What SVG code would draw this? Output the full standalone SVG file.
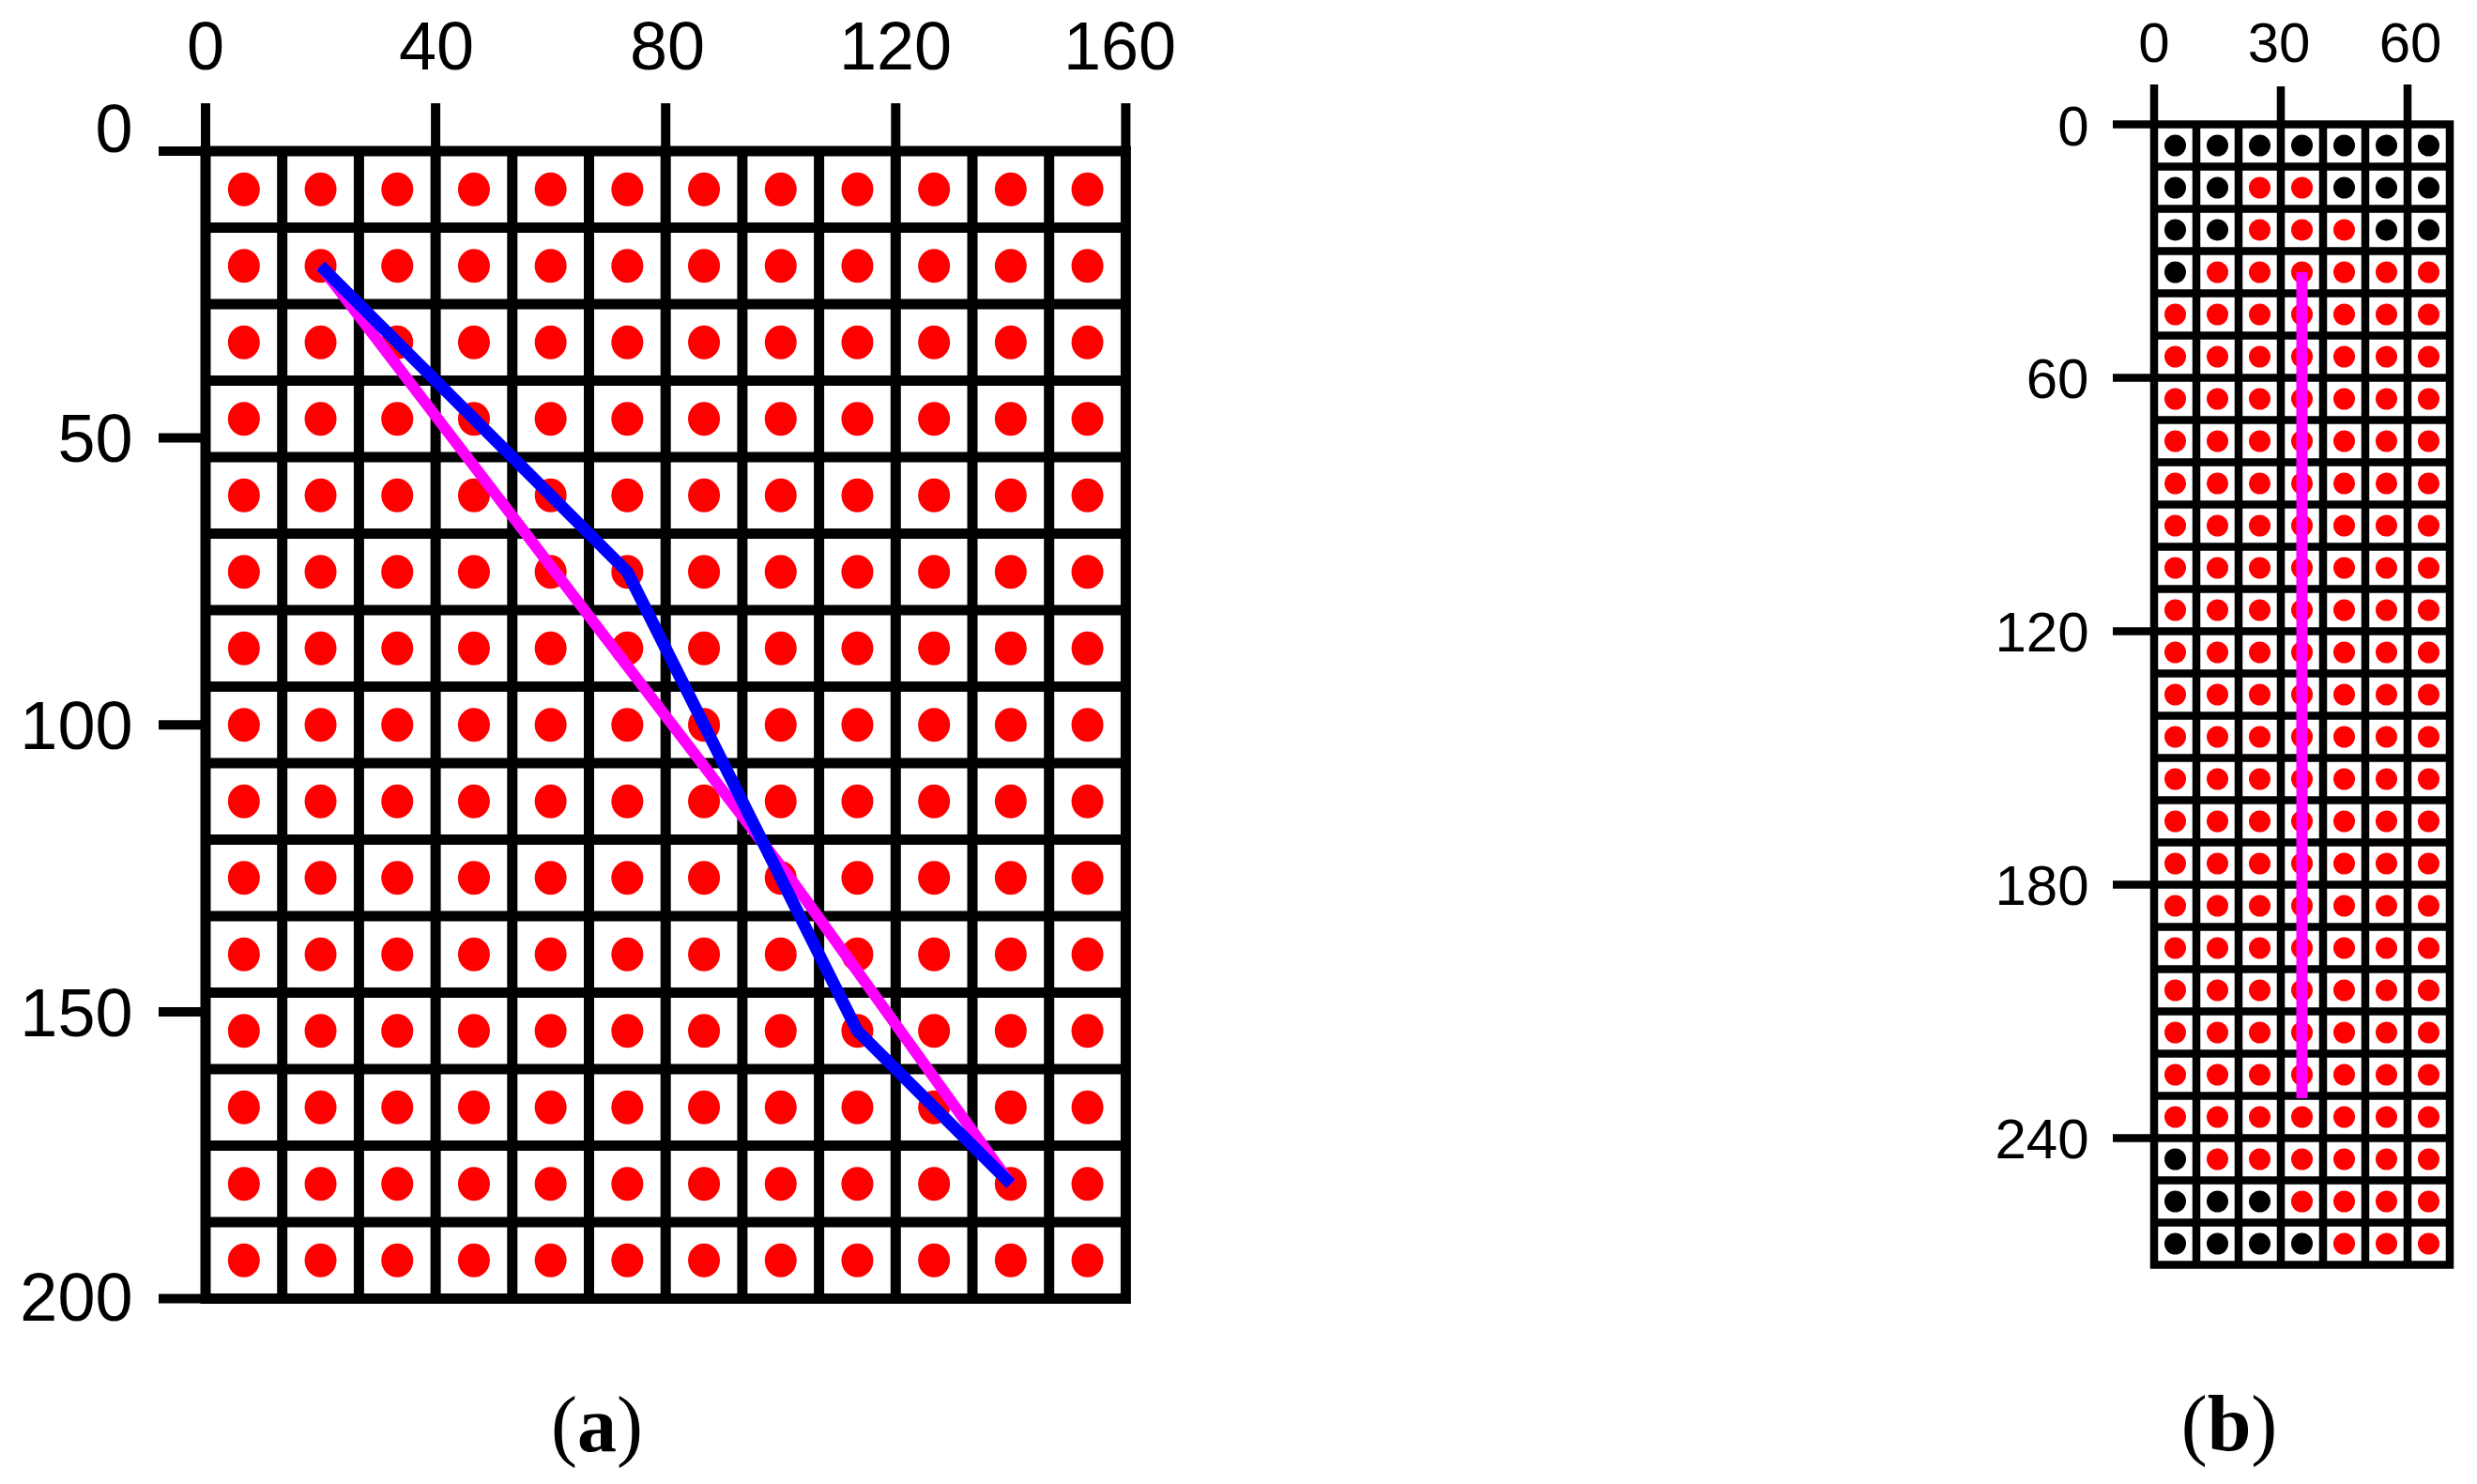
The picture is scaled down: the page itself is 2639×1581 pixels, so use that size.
<svg xmlns="http://www.w3.org/2000/svg" xmlns:xlink="http://www.w3.org/1999/xlink" width="2639" height="1581" viewBox="0 0 2639 1581">
<style>
.ax{font-family:"Liberation Sans",Arial,sans-serif;fill:#000}
.a72{font-size:72px}
.a60{font-size:60px}
.mid{text-anchor:middle}
.end{text-anchor:end}
.cap{font-family:"Liberation Serif","Times New Roman",serif;font-size:84px;fill:#000;text-anchor:middle}
.grid{fill:none;stroke:#000;stroke-linecap:square}
.ga{stroke-width:11}
.gb{stroke-width:8.5}
.tka{fill:none;stroke:#000;stroke-width:10}
.tkb{fill:none;stroke:#000;stroke-width:8.5}
.red{fill:#ff0000}
.blk{fill:#000}
.blue{fill:none;stroke:#0000ff;stroke-width:13;stroke-linejoin:round}
.mag{fill:none;stroke:#ff00ff;stroke-width:12;stroke-linejoin:round}
</style>
<defs>
<g id="rowA" class="red">
<ellipse cx="259.85" cy="0" rx="17" ry="18"/>
<ellipse cx="341.55" cy="0" rx="17" ry="18"/>
<ellipse cx="423.25" cy="0" rx="17" ry="18"/>
<ellipse cx="504.95" cy="0" rx="17" ry="18"/>
<ellipse cx="586.65" cy="0" rx="17" ry="18"/>
<ellipse cx="668.35" cy="0" rx="17" ry="18"/>
<ellipse cx="750.05" cy="0" rx="17" ry="18"/>
<ellipse cx="831.75" cy="0" rx="17" ry="18"/>
<ellipse cx="913.45" cy="0" rx="17" ry="18"/>
<ellipse cx="995.15" cy="0" rx="17" ry="18"/>
<ellipse cx="1076.85" cy="0" rx="17" ry="18"/>
<ellipse cx="1158.55" cy="0" rx="17" ry="18"/>
</g>
<g id="rowB" class="red">
<circle cx="2317.5" cy="0" r="11.5"/>
<circle cx="2362.5" cy="0" r="11.5"/>
<circle cx="2407.5" cy="0" r="11.5"/>
<circle cx="2452.5" cy="0" r="11.5"/>
<circle cx="2497.5" cy="0" r="11.5"/>
<circle cx="2542.5" cy="0" r="11.5"/>
<circle cx="2587.5" cy="0" r="11.5"/>
</g>
<g id="rowBk" class="blk">
<circle cx="2317.5" cy="0" r="11.5"/>
<circle cx="2362.5" cy="0" r="11.5"/>
<circle cx="2407.5" cy="0" r="11.5"/>
<circle cx="2452.5" cy="0" r="11.5"/>
<circle cx="2497.5" cy="0" r="11.5"/>
<circle cx="2542.5" cy="0" r="11.5"/>
<circle cx="2587.5" cy="0" r="11.5"/>
</g>
</defs>
<rect x="0" y="0" width="2639" height="1581" fill="#fff"/>

<g id="panel-a">
<g id="dots-a">
<use xlink:href="#rowA" y="201.75"/>
<use xlink:href="#rowA" y="283.25"/>
<use xlink:href="#rowA" y="364.75"/>
<use xlink:href="#rowA" y="446.25"/>
<use xlink:href="#rowA" y="527.75"/>
<use xlink:href="#rowA" y="609.25"/>
<use xlink:href="#rowA" y="690.75"/>
<use xlink:href="#rowA" y="772.25"/>
<use xlink:href="#rowA" y="853.75"/>
<use xlink:href="#rowA" y="935.25"/>
<use xlink:href="#rowA" y="1016.75"/>
<use xlink:href="#rowA" y="1098.25"/>
<use xlink:href="#rowA" y="1179.75"/>
<use xlink:href="#rowA" y="1261.25"/>
<use xlink:href="#rowA" y="1342.75"/>
</g>
<path id="grid-a" class="grid ga" d="M219,161V1383.5M300.7,161V1383.5M382.4,161V1383.5M464.1,161V1383.5M545.8,161V1383.5M627.5,161V1383.5M709.2,161V1383.5M790.9,161V1383.5M872.6,161V1383.5M954.3,161V1383.5M1036,161V1383.5M1117.7,161V1383.5M1199.4,161V1383.5
M219,161H1199.4M219,242.5H1199.4M219,324H1199.4M219,405.5H1199.4M219,487H1199.4M219,568.5H1199.4M219,650H1199.4M219,731.5H1199.4M219,813H1199.4M219,894.5H1199.4M219,976H1199.4M219,1057.5H1199.4M219,1139H1199.4M219,1220.5H1199.4M219,1302H1199.4M219,1383.5H1199.4"/>
<path id="ticks-a" class="tka" d="M219,110V161M464.1,110V161M709.2,110V161M954.3,110V161M1199.4,110V161M169,161H219M169,466.6H219M169,772.25H219M169,1077.9H219M169,1383.5H219"/>
<g id="labels-a" class="ax a72">
<text class="mid" x="219" y="74">0</text>
<text class="mid" x="465" y="74">40</text>
<text class="mid" x="711" y="74">80</text>
<text class="mid" x="954" y="74">120</text>
<text class="mid" x="1193" y="74">160</text>
<text class="end" x="141.5" y="162">0</text>
<text class="end" x="141.5" y="492">50</text>
<text class="end" x="141.5" y="798">100</text>
<text class="end" x="141.5" y="1104">150</text>
<text class="end" x="141.5" y="1407">200</text>
</g>
</g>

<g id="panel-b">
<g id="dots-b">
<use xlink:href="#rowBk" y="155"/>
<g transform="translate(0,200)">
<circle class="blk" cx="2317.5" cy="0" r="11.5"/><circle class="blk" cx="2362.5" cy="0" r="11.5"/><circle class="red" cx="2407.5" cy="0" r="11.5"/><circle class="red" cx="2452.5" cy="0" r="11.5"/><circle class="blk" cx="2497.5" cy="0" r="11.5"/><circle class="blk" cx="2542.5" cy="0" r="11.5"/><circle class="blk" cx="2587.5" cy="0" r="11.5"/>
</g>
<g transform="translate(0,245)">
<circle class="blk" cx="2317.5" cy="0" r="11.5"/><circle class="blk" cx="2362.5" cy="0" r="11.5"/><circle class="red" cx="2407.5" cy="0" r="11.5"/><circle class="red" cx="2452.5" cy="0" r="11.5"/><circle class="red" cx="2497.5" cy="0" r="11.5"/><circle class="blk" cx="2542.5" cy="0" r="11.5"/><circle class="blk" cx="2587.5" cy="0" r="11.5"/>
</g>
<g transform="translate(0,290)">
<circle class="blk" cx="2317.5" cy="0" r="11.5"/><circle class="red" cx="2362.5" cy="0" r="11.5"/><circle class="red" cx="2407.5" cy="0" r="11.5"/><circle class="red" cx="2452.5" cy="0" r="11.5"/><circle class="red" cx="2497.5" cy="0" r="11.5"/><circle class="red" cx="2542.5" cy="0" r="11.5"/><circle class="red" cx="2587.5" cy="0" r="11.5"/>
</g>
<use xlink:href="#rowB" y="335"/>
<use xlink:href="#rowB" y="380"/>
<use xlink:href="#rowB" y="425"/>
<use xlink:href="#rowB" y="470"/>
<use xlink:href="#rowB" y="515"/>
<use xlink:href="#rowB" y="560"/>
<use xlink:href="#rowB" y="605"/>
<use xlink:href="#rowB" y="650"/>
<use xlink:href="#rowB" y="695"/>
<use xlink:href="#rowB" y="740"/>
<use xlink:href="#rowB" y="785"/>
<use xlink:href="#rowB" y="830"/>
<use xlink:href="#rowB" y="875"/>
<use xlink:href="#rowB" y="920"/>
<use xlink:href="#rowB" y="965"/>
<use xlink:href="#rowB" y="1010"/>
<use xlink:href="#rowB" y="1055"/>
<use xlink:href="#rowB" y="1100"/>
<use xlink:href="#rowB" y="1145"/>
<use xlink:href="#rowB" y="1190"/>
<g transform="translate(0,1235)">
<circle class="blk" cx="2317.5" cy="0" r="11.5"/><circle class="red" cx="2362.5" cy="0" r="11.5"/><circle class="red" cx="2407.5" cy="0" r="11.5"/><circle class="red" cx="2452.5" cy="0" r="11.5"/><circle class="red" cx="2497.5" cy="0" r="11.5"/><circle class="red" cx="2542.5" cy="0" r="11.5"/><circle class="red" cx="2587.5" cy="0" r="11.5"/>
</g>
<g transform="translate(0,1280)">
<circle class="blk" cx="2317.5" cy="0" r="11.5"/><circle class="blk" cx="2362.5" cy="0" r="11.5"/><circle class="blk" cx="2407.5" cy="0" r="11.5"/><circle class="red" cx="2452.5" cy="0" r="11.5"/><circle class="red" cx="2497.5" cy="0" r="11.5"/><circle class="red" cx="2542.5" cy="0" r="11.5"/><circle class="red" cx="2587.5" cy="0" r="11.5"/>
</g>
<g transform="translate(0,1325)">
<circle class="blk" cx="2317.5" cy="0" r="11.5"/><circle class="blk" cx="2362.5" cy="0" r="11.5"/><circle class="blk" cx="2407.5" cy="0" r="11.5"/><circle class="blk" cx="2452.5" cy="0" r="11.5"/><circle class="red" cx="2497.5" cy="0" r="11.5"/><circle class="red" cx="2542.5" cy="0" r="11.5"/><circle class="red" cx="2587.5" cy="0" r="11.5"/>
</g>
</g>
<path id="grid-b" class="grid gb" d="M2295,132.5V1347.5M2340,132.5V1347.5M2385,132.5V1347.5M2430,132.5V1347.5M2475,132.5V1347.5M2520,132.5V1347.5M2565,132.5V1347.5M2610,132.5V1347.5
M2295,132.5H2610M2295,177.5H2610M2295,222.5H2610M2295,267.5H2610M2295,312.5H2610M2295,357.5H2610M2295,402.5H2610M2295,447.5H2610M2295,492.5H2610M2295,537.5H2610M2295,582.5H2610M2295,627.5H2610M2295,672.5H2610M2295,717.5H2610M2295,762.5H2610M2295,807.5H2610M2295,852.5H2610M2295,897.5H2610M2295,942.5H2610M2295,987.5H2610M2295,1032.5H2610M2295,1077.5H2610M2295,1122.5H2610M2295,1167.5H2610M2295,1212.5H2610M2295,1257.5H2610M2295,1302.5H2610M2295,1347.5H2610"/>
<path id="ticks-b" class="tkb" d="M2295,90V132.5M2430,92V132.5M2565,90V132.5M2251,132.5H2295M2251,402.5H2295M2251,672.5H2295M2251,942.5H2295M2251,1212.5H2295"/>
<g id="labels-b" class="ax a60">
<text class="mid" x="2295" y="66">0</text>
<text class="mid" x="2428" y="66">30</text>
<text class="mid" x="2568" y="66">60</text>
<text class="end" x="2225.5" y="154.5">0</text>
<text class="end" x="2225.5" y="424">60</text>
<text class="end" x="2225.5" y="694">120</text>
<text class="end" x="2225.5" y="964">180</text>
<text class="end" x="2225.5" y="1234">240</text>
</g>
</g>

<g id="connectors">
<path id="magenta-a" class="mag" d="M341.55,283.25L848,944L1076.85,1261.25"/>
<path id="blue-a" class="blue" d="M341.55,283.25L668.35,609.25L913.45,1098.25L1076.85,1261.25"/>
<path id="magenta-b" d="M2452.5,290V1170" fill="none" stroke="#ff00ff" stroke-width="12"/>
</g>

<g id="captions">
<text class="cap" x="636" y="1546">(<tspan font-weight="bold">a</tspan>)</text>
<text class="cap" x="2375" y="1545">(<tspan font-weight="bold">b</tspan>)</text>
</g>
</svg>
